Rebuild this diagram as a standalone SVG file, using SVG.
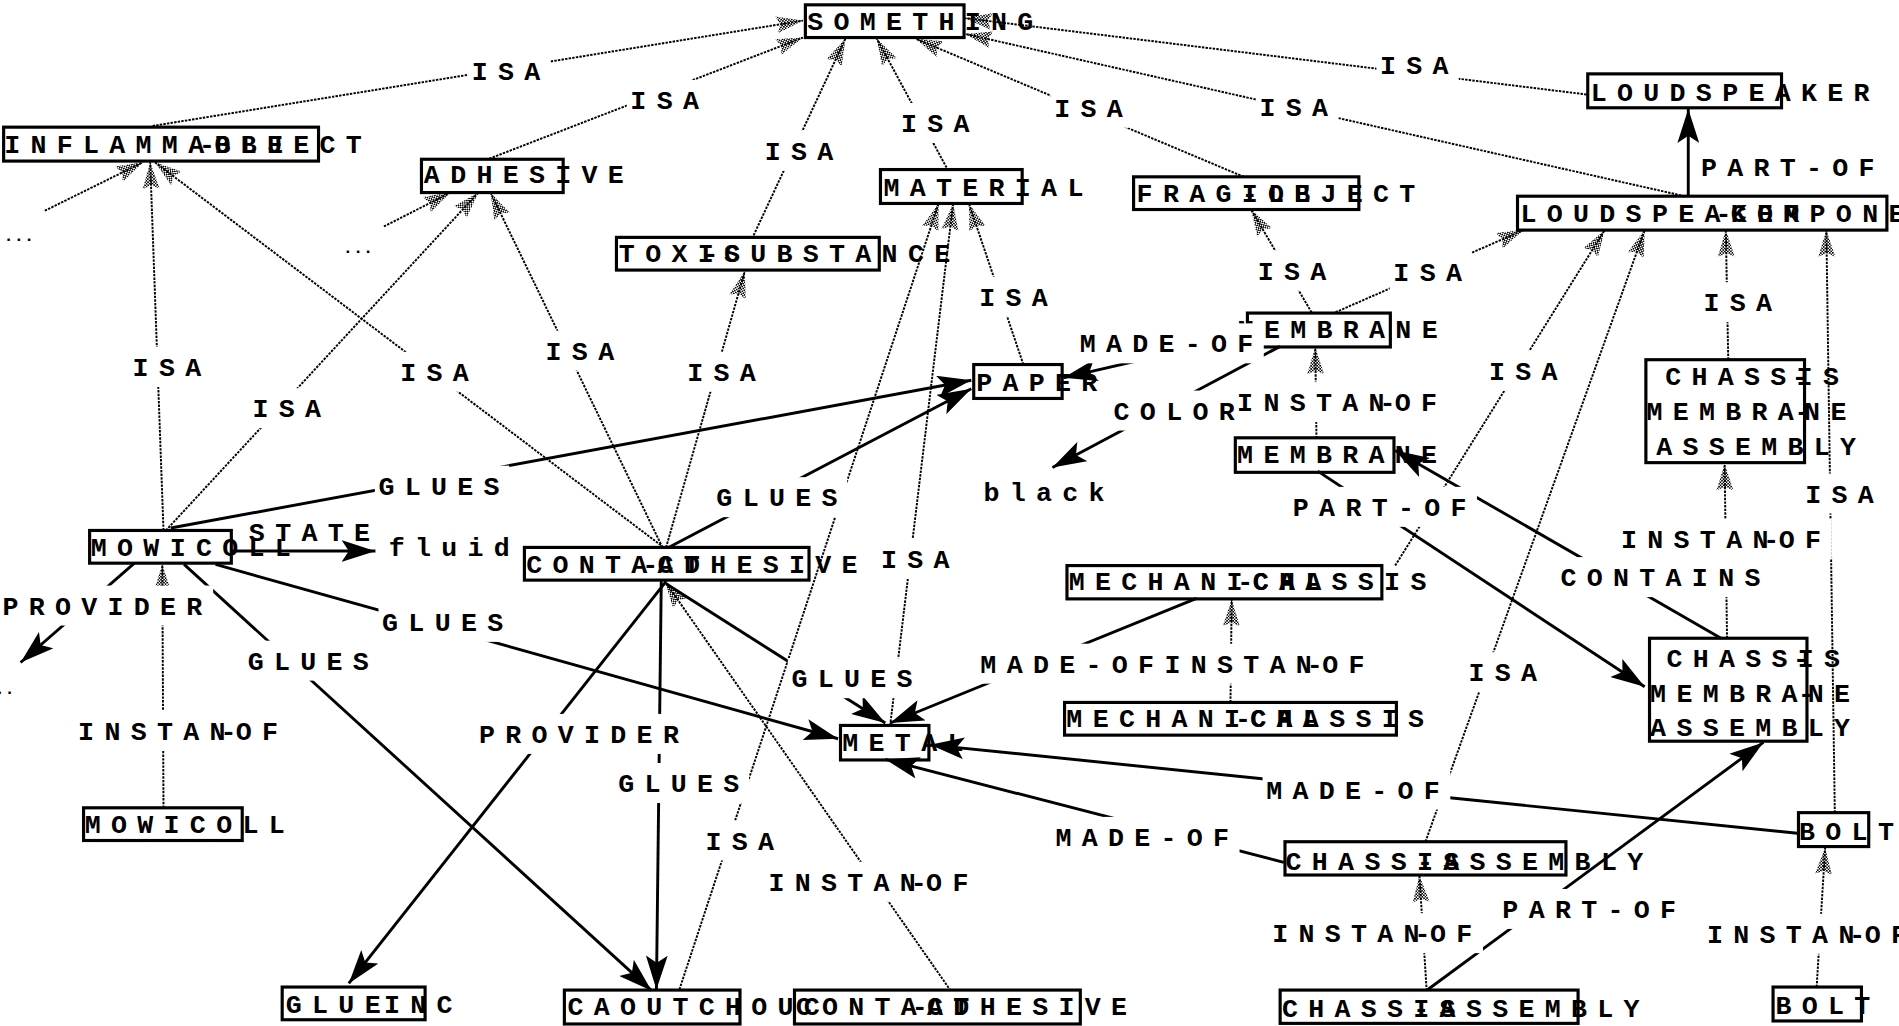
<svg xmlns="http://www.w3.org/2000/svg" width="1899" height="1026" viewBox="0 0 1899 1026">
<defs>
<pattern id="chk" width="2.5" height="2.5" patternUnits="userSpaceOnUse"><rect width="1.25" height="1.25" fill="#000"/><rect x="1.25" y="1.25" width="1.25" height="1.25" fill="#000"/></pattern>
<marker id="ah" markerUnits="userSpaceOnUse" markerWidth="22" markerHeight="16" viewBox="0 0 22 16" refX="22" refY="8" orient="auto"><path d="M0,1 L22,8 L0,15 L3,8z" fill="url(#chk)"/></marker>
<marker id="as" markerUnits="userSpaceOnUse" markerWidth="28" markerHeight="18" viewBox="0 0 28 18" refX="28" refY="9" orient="auto"><path d="M0,0 L28,9 L0,18 L6,9z" fill="#000"/></marker>
</defs>
<style>
text{font-family:"Liberation Mono","DejaVu Sans Mono",monospace;font-weight:bold;font-size:22px;letter-spacing:8.5px;fill:#000}
.box{fill:#fff;stroke:#000;stroke-width:2.6}
.isa{stroke:#000;stroke-width:1.6;stroke-dasharray:2 1;fill:none;marker-end:url(#ah)}
.rel{stroke:#000;stroke-width:2.4;fill:none;marker-end:url(#as)}
.bg{fill:#fff}
.dots{letter-spacing:0;font-size:14px}
</style>
<rect width="1899" height="1026" fill="#fff"/>
<g transform="scale(1.2111)">
<g id="nodes">
<g id="n-something"><rect class="box" x="665" y="4" width="131" height="27"/><text x="666.5" y="24.5">SOMETHING</text></g>
<g id="n-inflammable-object"><rect class="box" x="3" y="105" width="260" height="28"/><text x="3.5" y="126">INFLAMMABLE</text><text x="164.4" y="126">-<tspan dx="-9">OBJECT</tspan></text></g>
<g id="n-adhesive"><rect class="box" x="348" y="131.5" width="117" height="27.5"/><text x="350" y="151.5">ADHESIVE</text></g>
<g id="n-material"><rect class="box" x="727" y="140" width="117" height="28"/><text x="729.5" y="162">MATERIAL</text></g>
<g id="n-toxic-substance"><rect class="box" x="509" y="196" width="217" height="27"/><text x="511" y="216">TOXIC</text><text x="580.1" y="216">-<tspan dx="-4">SUBSTANCE</tspan></text></g>
<g id="n-fragile-object"><rect class="box" x="936" y="146" width="186" height="27"/><text x="938.5" y="166.5">FRAGILE</text><text x="1025.3" y="166.5">-OBJECT</text></g>
<g id="n-loudspeaker"><rect class="box" x="1311" y="61" width="160" height="28"/><text x="1313.5" y="83">LOUDSPEAKER</text></g>
<g id="n-loudspeaker-component"><rect class="box" x="1253" y="162" width="305" height="28"/><text x="1255.5" y="183.5">LOUDSPEAKER</text><text x="1416.4" y="183.5">-<tspan dx="-9">COMPONENT</tspan></text></g>
<g id="n-membrane-class"><rect class="box" x="1030" y="258.5" width="118" height="28"/><text x="1022" y="279">MEMBRANE</text></g>
<g id="n-paper"><rect class="box" x="804" y="301" width="73" height="28"/><text x="806" y="322.5">PAPER</text></g>
<g id="n-membrane-inst"><rect class="box" x="1020" y="361.5" width="131" height="28.5"/><text x="1021.5" y="382">MEMBRANE</text></g>
<g id="n-cma-class"><rect class="box" x="1359" y="297" width="131" height="85"/><text x="1375" y="318">CHASSIS</text><text x="1479.5" y="318">-</text><text x="1359.5" y="347">MEMBRANE</text><text x="1481.7" y="347">-</text><text x="1367.5" y="376">ASSEMBLY</text></g>
<g id="n-mech-class"><rect class="box" x="881" y="467" width="260" height="27.5"/><text x="882.5" y="487">MECHANICAL</text><text x="1021.7" y="487">-<tspan dx="-9">CHASSIS</tspan></text></g>
<g id="n-mech-inst"><rect class="box" x="879" y="580" width="274" height="27"/><text x="880.5" y="600.5">MECHANICAL</text><text x="1019.7" y="600.5">-<tspan dx="-9">CHASSIS</tspan></text></g>
<g id="n-cma-inst"><rect class="box" x="1362" y="527" width="130" height="85"/><text x="1376" y="551">CHASSIS</text><text x="1480.5" y="551">-</text><text x="1362.5" y="580">MEMBRANE</text><text x="1484.7" y="580">-</text><text x="1362.5" y="608">ASSEMBLY</text></g>
<g id="n-mowicoll-class"><rect class="box" x="74" y="438" width="117" height="27"/><text x="75" y="459">MOWICOLL</text></g>
<g id="n-mowicoll-inst"><rect class="box" x="69" y="667" width="131" height="27"/><text x="70" y="688">MOWICOLL</text></g>
<g id="n-contact-class"><rect class="box" x="433" y="452" width="235" height="27"/><text x="434.5" y="473">CONTACT</text><text x="530.3" y="473">-<tspan dx="-9">ADHESIVE</tspan></text></g>
<g id="n-contact-inst"><rect class="box" x="656" y="817.5" width="236" height="28"/><text x="657" y="838.5">CONTACT</text><text x="752.8" y="838.5">-<tspan dx="-9">ADHESIVE</tspan></text></g>
<g id="n-metal"><rect class="box" x="694" y="599" width="73" height="28.5"/><text x="695.5" y="620">METAL</text></g>
<g id="n-glue-inc"><rect class="box" x="233" y="815" width="118" height="27"/><text x="236" y="836.5">GLUE</text><text x="317" y="836.5">INC</text></g>
<g id="n-caoutchouc"><rect class="box" x="466" y="817.5" width="145" height="28"/><text x="468.5" y="838.5">CAOUTCHOUC</text></g>
<g id="n-ca-class"><rect class="box" x="1061" y="695" width="232" height="27.5"/><text x="1061.5" y="718">CHASSIS</text><text x="1170" y="718">-ASSEMBLY</text></g>
<g id="n-ca-inst"><rect class="box" x="1057" y="817.5" width="246" height="27.5"/><text x="1058.5" y="839.5">CHASSIS</text><text x="1167" y="839.5">-ASSEMBLY</text></g>
<g id="n-bolt-class"><rect class="box" x="1485" y="671" width="58" height="28"/><text x="1485.5" y="693.5">BOLT</text></g>
<g id="n-bolt-inst"><rect class="box" x="1464" y="815" width="73" height="28"/><text x="1466" y="837.5">BOLT</text></g>
<g id="n-fluid"><text x="321" y="459.5">fluid</text></g>
<g id="n-black"><text x="812" y="414">black</text></g>
<g id="n-dots1"><text class="dots" x="3" y="199">...</text></g>
<g id="n-dots2"><text class="dots" x="283" y="209">...</text></g>
<g id="n-dots3"><text class="dots" x="-13" y="573">...</text></g>
</g>
<g id="connectors">
<line class="isa" x1="126" y1="104" x2="663" y2="17"/>
<line class="isa" x1="404" y1="131" x2="663" y2="31"/>
<line class="isa" x1="621" y1="197" x2="698" y2="32"/>
<line class="isa" x1="783" y1="141" x2="724" y2="32"/>
<line class="isa" x1="1027" y1="146" x2="756" y2="32"/>
<line class="isa" x1="1391" y1="162" x2="797" y2="28"/>
<line class="isa" x1="1310" y1="78" x2="797" y2="15"/>
<line class="isa" x1="37" y1="174" x2="118" y2="134"/>
<line class="isa" x1="317" y1="187" x2="372" y2="159"/>
<line class="isa" x1="135" y1="438" x2="124" y2="134"/>
<line class="isa" x1="548" y1="452" x2="128" y2="134"/>
<line class="isa" x1="137" y1="438" x2="395" y2="159"/>
<line class="isa" x1="547" y1="452" x2="405" y2="159"/>
<line class="isa" x1="550" y1="452" x2="615" y2="224"/>
<line class="isa" x1="845" y1="301" x2="800" y2="168"/>
<line class="isa" x1="735" y1="599" x2="787" y2="168"/>
<line class="isa" x1="561" y1="817" x2="775" y2="168"/>
<line class="isa" x1="1083" y1="258" x2="1033" y2="173"/>
<line class="isa" x1="1100" y1="259" x2="1258" y2="190"/>
<line class="isa" x1="1152" y1="467" x2="1325" y2="190"/>
<line class="isa" x1="1177" y1="695" x2="1358" y2="190"/>
<line class="isa" x1="1427" y1="297" x2="1425" y2="190"/>
<line class="isa" x1="1515" y1="671" x2="1508" y2="190"/>
<line class="isa" x1="1087" y1="362" x2="1086" y2="287"/>
<line class="isa" x1="1426" y1="527" x2="1424" y2="383"/>
<line class="isa" x1="1016" y1="580" x2="1017" y2="495"/>
<line class="isa" x1="135" y1="667" x2="134" y2="466"/>
<line class="isa" x1="785" y1="818" x2="549" y2="480"/>
<line class="isa" x1="1178" y1="818" x2="1172" y2="723"/>
<line class="isa" x1="1500" y1="815" x2="1507" y2="700"/>
<line class="rel" x1="1394" y1="162" x2="1394" y2="90"/>
<line class="rel" x1="1030" y1="277" x2="878" y2="312"/>
<line class="rel" x1="1057" y1="286" x2="869" y2="386"/>
<line class="rel" x1="191" y1="455" x2="310" y2="455"/>
<line class="rel" x1="141" y1="436" x2="802" y2="314"/>
<line class="rel" x1="552" y1="452" x2="802" y2="321"/>
<line class="rel" x1="111" y1="465" x2="17" y2="547"/>
<line class="rel" x1="178" y1="466" x2="692" y2="610"/>
<line class="rel" x1="152" y1="466" x2="538" y2="818"/>
<line class="rel" x1="550" y1="480" x2="288" y2="812"/>
<line class="rel" x1="546" y1="480" x2="542" y2="817"/>
<line class="rel" x1="550" y1="482" x2="731" y2="597"/>
<line class="rel" x1="988" y1="494" x2="735" y2="597"/>
<line class="rel" x1="1484" y1="688" x2="768" y2="615"/>
<line class="rel" x1="1060" y1="712" x2="731" y2="627"/>
<line class="rel" x1="1088" y1="389" x2="1358" y2="567"/>
<line class="rel" x1="1421" y1="527" x2="1152" y2="372"/>
<line class="rel" x1="1179" y1="817" x2="1456" y2="613"/>
</g>
<g id="edge-labels">
<g id="label-bgs">
<rect class="bg" x="386.5" y="42" width="68" height="33"/>
<rect class="bg" x="517.5" y="66" width="68" height="33"/>
<rect class="bg" x="628.5" y="108" width="68" height="33"/>
<rect class="bg" x="741" y="85" width="68" height="33"/>
<rect class="bg" x="867.5" y="72.5" width="68" height="33"/>
<rect class="bg" x="1037" y="71.5" width="68" height="33"/>
<rect class="bg" x="1136.5" y="37" width="68" height="33"/>
<rect class="bg" x="106.5" y="286.5" width="68" height="33"/>
<rect class="bg" x="327.5" y="290.5" width="68" height="33"/>
<rect class="bg" x="205.5" y="320.5" width="68" height="33"/>
<rect class="bg" x="447.5" y="273" width="68" height="33"/>
<rect class="bg" x="564.5" y="290.5" width="68" height="33"/>
<rect class="bg" x="805.5" y="228.5" width="68" height="33"/>
<rect class="bg" x="724.5" y="445" width="68" height="33"/>
<rect class="bg" x="579.5" y="677.5" width="68" height="33"/>
<rect class="bg" x="1035.5" y="207" width="68" height="33"/>
<rect class="bg" x="1147.5" y="208" width="68" height="33"/>
<rect class="bg" x="1226.5" y="289.5" width="68" height="33"/>
<rect class="bg" x="1209.5" y="538.5" width="68" height="33"/>
<rect class="bg" x="1403.5" y="233" width="68" height="33"/>
<rect class="bg" x="1487.5" y="391" width="68" height="33"/>
<rect class="bg" x="1018.5" y="315.5" width="177" height="33"/>
<rect class="bg" x="1335.5" y="428.5" width="177" height="33"/>
<rect class="bg" x="958.5" y="531.5" width="177" height="33"/>
<rect class="bg" x="61.5" y="587" width="177" height="33"/>
<rect class="bg" x="631.5" y="711.5" width="177" height="33"/>
<rect class="bg" x="1047.5" y="754" width="177" height="33"/>
<rect class="bg" x="1406.5" y="754.5" width="177" height="33"/>
<rect class="bg" x="1401.5" y="121.5" width="155" height="33"/>
<rect class="bg" x="888.5" y="267" width="155" height="33"/>
<rect class="bg" x="916.5" y="322.5" width="111" height="33"/>
<rect class="bg" x="309.5" y="384.5" width="111" height="33"/>
<rect class="bg" x="588.5" y="394" width="111" height="33"/>
<rect class="bg" x="-1" y="483.5" width="177" height="33"/>
<rect class="bg" x="312.5" y="497" width="111" height="33"/>
<rect class="bg" x="201.5" y="529" width="111" height="33"/>
<rect class="bg" x="392.5" y="589.5" width="177" height="33"/>
<rect class="bg" x="507.5" y="630" width="111" height="33"/>
<rect class="bg" x="650.5" y="543.5" width="111" height="33"/>
<rect class="bg" x="806.5" y="531.5" width="155" height="33"/>
<rect class="bg" x="1042.5" y="635.5" width="155" height="33"/>
<rect class="bg" x="868.5" y="674.5" width="155" height="33"/>
<rect class="bg" x="1064.5" y="402" width="155" height="33"/>
<rect class="bg" x="1285.5" y="460" width="177" height="33"/>
<rect class="bg" x="1237.5" y="734" width="155" height="33"/>
</g>
<text x="389.5" y="66">ISA</text>
<text x="520.5" y="90">ISA</text>
<text x="631.5" y="132">ISA</text>
<text x="744" y="109">ISA</text>
<text x="870.5" y="96.5">ISA</text>
<text x="1040" y="95.5">ISA</text>
<text x="1139.5" y="61">ISA</text>
<text x="109.5" y="310.5">ISA</text>
<text x="330.5" y="314.5">ISA</text>
<text x="208.5" y="344.5">ISA</text>
<text x="450.5" y="297">ISA</text>
<text x="567.5" y="314.5">ISA</text>
<text x="808.5" y="252.5">ISA</text>
<text x="727.5" y="469">ISA</text>
<text x="582.5" y="701.5">ISA</text>
<text x="1038.5" y="231">ISA</text>
<text x="1150.5" y="232">ISA</text>
<text x="1229.5" y="313.5">ISA</text>
<text x="1212.5" y="562.5">ISA</text>
<text x="1406.5" y="257">ISA</text>
<text x="1490.5" y="415">ISA</text>
<text x="1021.5" y="339.5">INSTAN</text><text x="1139" y="339.5">-<tspan dx="-9">OF</tspan></text>
<text x="1338.5" y="452.5">INSTAN</text><text x="1456" y="452.5">-<tspan dx="-9">OF</tspan></text>
<text x="961.5" y="555.5">INSTAN</text><text x="1079" y="555.5">-<tspan dx="-9">OF</tspan></text>
<text x="64.5" y="611">INSTAN</text><text x="182" y="611">-<tspan dx="-9">OF</tspan></text>
<text x="634.5" y="735.5">INSTAN</text><text x="752" y="735.5">-<tspan dx="-9">OF</tspan></text>
<text x="1050.5" y="778">INSTAN</text><text x="1168" y="778">-<tspan dx="-9">OF</tspan></text>
<text x="1409.5" y="778.5">INSTAN</text><text x="1527" y="778.5">-<tspan dx="-9">OF</tspan></text>
<text x="1404.5" y="145.5">PART-OF</text>
<text x="891.5" y="291">MADE-OF</text>
<text x="919.5" y="346.5">COLOR</text>
<text x="205.5" y="446.5">STATE</text>
<text x="312.5" y="408.5">GLUES</text>
<text x="591.5" y="418">GLUES</text>
<text x="2" y="507.5">PROVIDER</text>
<text x="315.5" y="521">GLUES</text>
<text x="204.5" y="553">GLUES</text>
<text x="395.5" y="613.5">PROVIDER</text>
<text x="510.5" y="654">GLUES</text>
<text x="653.5" y="567.5">GLUES</text>
<text x="809.5" y="555.5">MADE-OF</text>
<text x="1045.5" y="659.5">MADE-OF</text>
<text x="871.5" y="698.5">MADE-OF</text>
<text x="1067.5" y="426">PART-OF</text>
<text x="1288.5" y="484">CONTAINS</text>
<text x="1240.5" y="758">PART-OF</text>
</g>
</g>
</svg>
